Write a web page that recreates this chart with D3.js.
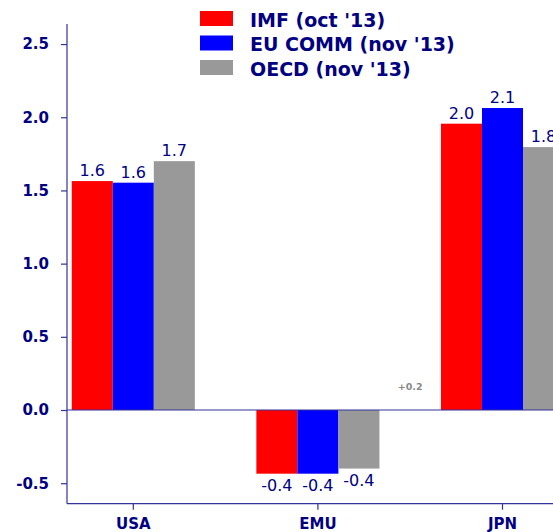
<!DOCTYPE html>
<html>
<head>
<meta charset="utf-8">
<script src="https://cdn.jsdelivr.net/npm/d3@7"></script>
<style>
  html, body { margin: 0; padding: 0; background: #fff; overflow: hidden; }
  svg { display: block; }
</style>
</head>
<body>
<svg id="chart" width="553" height="532"></svg>
<script>
const categories = ["USA", "EMU", "JPN"];
const seriesNames = ["IMF (oct '13)", "EU COMM (nov '13)", "OECD (nov '13)"];
const imf = [1.564, -0.435, 1.956];
const euComm = [1.553, -0.435, 2.063];
const oecd = [1.70, -0.40, 1.796];
const yTicks = [-0.5, 0.0, 0.5, 1.0, 1.5, 2.0, 2.5];
const note = "+0.2";

const colors = ["#ff0000", "#0000ff", "#999999"];
const series = [imf, euComm, oecd];
const textColor = "#000080";
const axisColor = "#333399";

const W = 553, H = 532;
const svg = d3.select("#chart");

const y = d3.scaleLinear().domain([-0.64, 2.637]).range([503.7, 24]);
const x = d3.scaleBand().domain(categories).range([41, 594.8]).paddingInner(1/3).paddingOuter(1/6);
const xs = d3.scaleBand().domain(d3.range(series.length)).range([0, x.bandwidth()]);

const fmt = v => d3.format(".1f")(v).replace("\u2212", "-");

// bars
series.forEach((vals, si) => {
  svg.append("g").selectAll("rect").data(vals).join("rect")
    .attr("x", (d, i) => x(categories[i]) + xs(si))
    .attr("width", xs.bandwidth())
    .attr("y", d => y(Math.max(0, d)))
    .attr("height", d => Math.abs(y(d) - y(0)))
    .attr("fill", colors[si]);
});

// zero line
svg.append("line")
  .attr("x1", 67).attr("x2", W)
  .attr("y1", y(0)).attr("y2", y(0))
  .attr("stroke", axisColor).attr("stroke-width", 1.2);

// value labels
series.forEach((vals, si) => {
  svg.append("g").selectAll("text").data(vals).join("text")
    .attr("x", (d, i) => x(categories[i]) + xs(si) + xs.bandwidth() / 2)
    .attr("y", d => d >= 0 ? y(d) - 5 : y(d) + 17)
    .attr("text-anchor", "middle")
    .attr("font-family", "DejaVu Sans, Verdana, sans-serif")
    .attr("font-size", 16)
    .attr("fill", textColor)
    .text(d => fmt(d));
});

// y axis
const yAxis = d3.axisLeft(y).tickValues(yTicks).tickFormat(fmt).tickSize(6).tickPadding(12);
const gy = svg.append("g").attr("transform", "translate(67,0)").call(yAxis);
gy.select(".domain").attr("stroke", axisColor).attr("stroke-width", 1.2).attr("d", `M0,${y.range()[1]}V${y.range()[0]}`);
gy.selectAll(".tick line").attr("stroke", axisColor).attr("stroke-width", 1.2);
gy.selectAll(".tick text")
  .attr("font-family", "DejaVu Sans, Verdana, sans-serif")
  .attr("font-weight", "bold").attr("font-size", 15).attr("fill", textColor);

// x axis
const xAxis = d3.axisBottom(x).tickSize(6).tickPadding(9);
const gx = svg.append("g").attr("transform", `translate(0,${y.range()[0]})`).call(xAxis);
gx.select(".domain").attr("d", `M67,0H${W}`).attr("stroke", axisColor).attr("stroke-width", 1.2);
gx.selectAll(".tick line").attr("stroke", axisColor).attr("stroke-width", 1.2);
gx.selectAll(".tick text")
  .attr("font-family", "DejaVu Sans, Verdana, sans-serif")
  .attr("font-weight", "bold").attr("font-size", 15).attr("fill", textColor);

// note
svg.append("text")
  .attr("x", (x("EMU") + x.bandwidth() + x("JPN")) / 2)
  .attr("y", 390)
  .attr("text-anchor", "middle")
  .attr("font-family", "DejaVu Sans, Verdana, sans-serif")
  .attr("font-weight", "bold").attr("font-size", 9.5)
  .attr("fill", "#888888")
  .text(note);

// legend
const lg = svg.append("g");
seriesNames.forEach((name, i) => {
  const yy = 11 + i * 24.5;
  lg.append("rect").attr("x", 200).attr("y", yy).attr("width", 33).attr("height", 15).attr("fill", colors[i]);
  lg.append("text").attr("x", 250).attr("y", yy + 15.5)
    .attr("font-family", "DejaVu Sans, Verdana, sans-serif")
    .attr("font-weight", "bold").attr("font-size", 19)
    .attr("fill", textColor)
    .text(name);
});
</script>
</body>
</html>
